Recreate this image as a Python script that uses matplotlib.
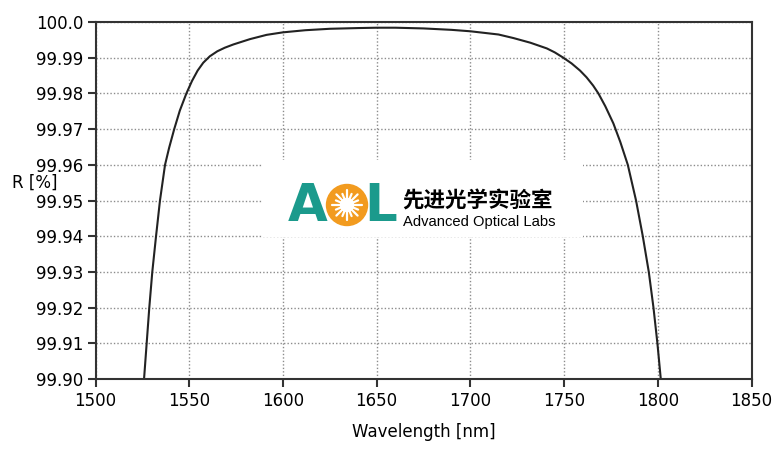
import numpy as np
import matplotlib
matplotlib.use("Agg")
import matplotlib.pyplot as plt
from matplotlib.patches import Circle, Rectangle

# Reflectance curve
wavelength = [1525.9, 1527.3, 1528.7, 1530.3, 1532.3, 1534.4, 1537.1, 1539.3,
              1542.0, 1545.0, 1548.5, 1551.5, 1554.5, 1557.5, 1561.0, 1565.0,
              1569.0, 1573.5, 1582.4, 1591.3, 1600.0, 1612.0, 1625.0, 1640.0,
              1650.0, 1660.0, 1675.0, 1690.0, 1700.0, 1705.0, 1715.0, 1723.0,
              1732.0, 1740.8, 1745.0, 1749.6, 1754.0, 1758.5, 1762.0, 1765.5,
              1768.3, 1772.0, 1776.3, 1780.0, 1784.0, 1788.4, 1792.0, 1795.2,
              1797.7, 1799.8, 1801.6]
reflect = [99.9000, 99.9100, 99.9200, 99.9300, 99.9400, 99.9500, 99.9600, 99.9648,
           99.9700, 99.9752, 99.9800, 99.9835, 99.9864, 99.9886, 99.9904, 99.9918,
           99.9928, 99.9937, 99.9952, 99.9964, 99.9971, 99.9977, 99.9981, 99.9983,
           99.9984, 99.9984, 99.9982, 99.9978, 99.9974, 99.9971, 99.9965, 99.9955,
           99.9942, 99.9926, 99.9915, 99.9900, 99.9884, 99.9864, 99.9845, 99.9822,
           99.9800, 99.9764, 99.9716, 99.9664, 99.9600, 99.9500, 99.9400, 99.9300,
           99.9200, 99.9100, 99.9000]

x_ticks = [1500, 1550, 1600, 1650, 1700, 1750, 1800, 1850]
y_ticks = [99.90, 99.91, 99.92, 99.93, 99.94, 99.95, 99.96, 99.97, 99.98, 99.99, 100.0]
y_labels = ['99.90', '99.91', '99.92', '99.93', '99.94', '99.95',
            '99.96', '99.97', '99.98', '99.99', '100.0']

W, H = 782, 450
fig = plt.figure(figsize=(W / 100, H / 100), dpi=100)
ax = fig.add_axes([95.5 / W, 1 - 379 / H, 656 / W, 357 / H])

ax.plot(wavelength, reflect, color='#222222', lw=1.5, clip_on=True)
ax.set_xlim(1500, 1850)
ax.set_ylim(99.90, 100.0)
ax.set_xticks(x_ticks)
ax.set_yticks(y_ticks)
ax.set_yticklabels(y_labels)
ax.grid(True, ls=(0, (1, 1.5)), color='#8c8c8c', lw=1.0)
for s in ax.spines.values():
    s.set_color('#333333')
    s.set_linewidth(1.5)
ax.tick_params(direction='out', length=6, width=1.5, color='#333333',
               labelsize=12, pad=3)
ax.set_xlabel('Wavelength [nm]', fontsize=12, labelpad=10)
fig.text(12 / W, 1 - 183 / H, 'R [%]', fontsize=12, va='center', ha='left')

# logo block, drawn in pixel units
lx0, lx1, ly0, ly1 = 263, 583, 160, 237
lax = fig.add_axes([lx0 / W, 1 - ly1 / H, (lx1 - lx0) / W, (ly1 - ly0) / H])
lax.set_xlim(lx0, lx1)
lax.set_ylim(ly1, ly0)
lax.set_axis_off()
lax.add_patch(Rectangle((lx0, ly0), lx1 - lx0, ly1 - ly0, color='white', zorder=0))

teal = '#1b9a8c'
orange = '#f29b1f'
lax.text(308, 207, 'A', color=teal, fontsize=37, fontweight='bold',
         ha='center', va='center', family='DejaVu Sans')
cx, cy = 347, 205
lax.add_patch(Circle((cx, cy), 20.5, color=orange, zorder=2))
lax.add_patch(Circle((cx, cy), 6.5, color='white', zorder=3))
for ang in np.linspace(0, 2 * np.pi, 16, endpoint=False):
    r1 = 15 if int(round(ang / (np.pi / 8))) % 2 == 0 else 12
    lax.plot([cx + 6 * np.cos(ang), cx + r1 * np.cos(ang)],
             [cy + 6 * np.sin(ang), cy + r1 * np.sin(ang)],
             color='white', lw=1.6, zorder=3, solid_capstyle='round')
lax.text(381, 207, 'L', color=teal, fontsize=37, fontweight='bold',
         ha='center', va='center', family='DejaVu Sans')
lax.text(402, 201, '先进光学实验室', fontsize=15.5, ha='left', va='center',
         family=['Noto Sans CJK SC', 'DejaVu Sans'], fontweight='bold')
lax.text(403, 222.5, 'Advanced Optical Labs', fontsize=10.6, ha='left',
         va='center', family='Liberation Sans')

fig.savefig('out.png', dpi=100, facecolor='white')
